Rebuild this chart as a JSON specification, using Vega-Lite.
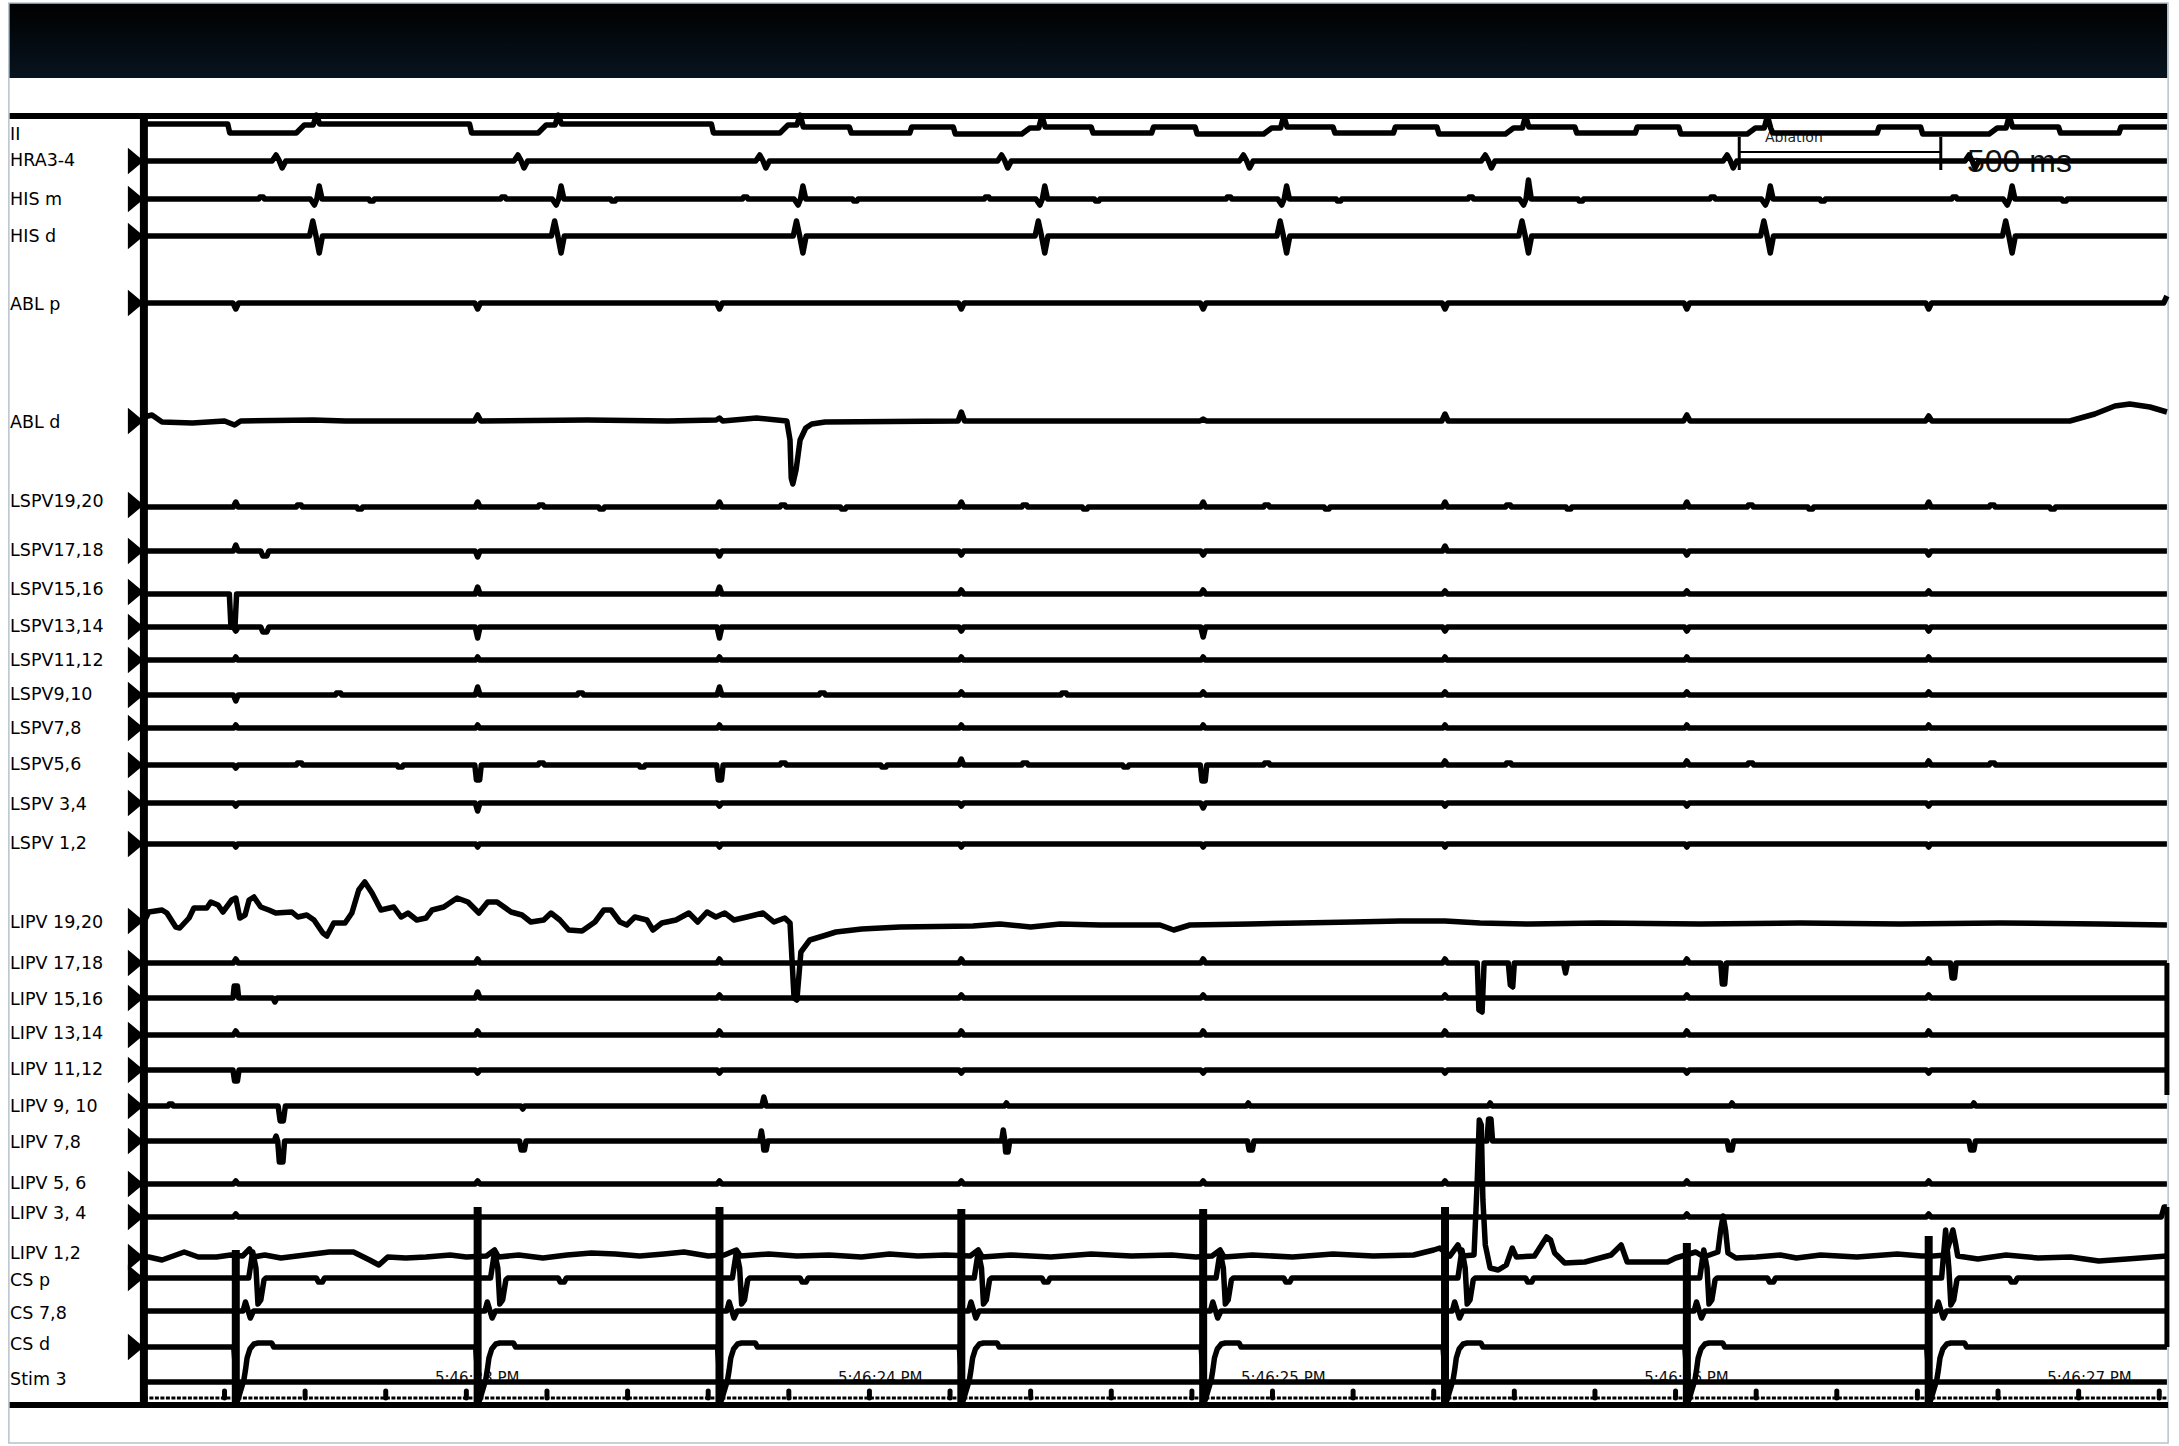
{
  "$schema": "https://vega.github.io/schema/vega-lite/v6.json",
  "width": 2179,
  "height": 1446,
  "padding": 0,
  "autosize": {"type": "none"},
  "background": "white",
  "config": {"view": {"stroke": null}},
  "datasets": {
    "channels": [
      {"name": "II", "ly": 135, "base": 124, "m": 0},
      {"name": "HRA3-4", "ly": 161, "base": 161, "m": 1},
      {"name": "HIS m", "ly": 200, "base": 199, "m": 1},
      {"name": "HIS d", "ly": 237, "base": 236, "m": 1},
      {"name": "ABL p", "ly": 305, "base": 303, "m": 1},
      {"name": "ABL d", "ly": 423, "base": 421, "m": 1},
      {"name": "LSPV19,20", "ly": 502, "base": 505, "m": 1},
      {"name": "LSPV17,18", "ly": 551, "base": 551, "m": 1},
      {"name": "LSPV15,16", "ly": 590, "base": 592, "m": 1},
      {"name": "LSPV13,14", "ly": 627, "base": 627, "m": 1},
      {"name": "LSPV11,12", "ly": 661, "base": 660, "m": 1},
      {"name": "LSPV9,10", "ly": 695, "base": 695, "m": 1},
      {"name": "LSPV7,8", "ly": 729, "base": 728, "m": 1},
      {"name": "LSPV5,6", "ly": 765, "base": 765, "m": 1},
      {"name": "LSPV 3,4", "ly": 805, "base": 803, "m": 1},
      {"name": "LSPV 1,2", "ly": 844, "base": 844, "m": 1},
      {"name": "LIPV  19,20", "ly": 923, "base": 921, "m": 1},
      {"name": "LIPV 17,18", "ly": 964, "base": 963, "m": 1},
      {"name": "LIPV 15,16", "ly": 1000, "base": 998, "m": 1},
      {"name": "LIPV 13,14", "ly": 1034, "base": 1035, "m": 1},
      {"name": "LIPV 11,12", "ly": 1070, "base": 1070, "m": 1},
      {"name": "LIPV 9, 10", "ly": 1107, "base": 1106, "m": 1},
      {"name": "LIPV 7,8", "ly": 1143, "base": 1141, "m": 1},
      {"name": "LIPV 5, 6", "ly": 1184, "base": 1184, "m": 1},
      {"name": "LIPV 3, 4", "ly": 1214, "base": 1217, "m": 1},
      {"name": "LIPV 1,2", "ly": 1254, "base": 1257, "m": 1},
      {"name": "CS p", "ly": 1281, "base": 1278, "m": 1},
      {"name": "CS 7,8", "ly": 1314, "base": 1311, "m": 0},
      {"name": "CS d", "ly": 1345, "base": 1347, "m": 1},
      {"name": "Stim 3", "ly": 1380, "base": 1382, "m": 0}
    ],
    "stim": [
      {"t": 228, "top": 1250}, {"t": 828, "top": 1207}, {"t": 1428, "top": 1207}, {"t": 2028, "top": 1209},
      {"t": 2628, "top": 1209}, {"t": 3228, "top": 1207}, {"t": 3828, "top": 1243}, {"t": 4428, "top": 1236}
    ],
    "ticks": [
      {"t": 200}, {"t": 400}, {"t": 600}, {"t": 800}, {"t": 1000}, {"t": 1200}, {"t": 1400}, {"t": 1600}, {"t": 1800},
      {"t": 2000}, {"t": 2200}, {"t": 2400}, {"t": 2600}, {"t": 2800}, {"t": 3000}, {"t": 3200}, {"t": 3400},
      {"t": 3600}, {"t": 3800}, {"t": 4000}, {"t": 4200}, {"t": 4400}, {"t": 4600}, {"t": 4800}, {"t": 5000}
    ],
    "clock": [
      {"t": 722, "s": "5:46:23 PM"}, {"t": 1722, "s": "5:46:24 PM"}, {"t": 2722, "s": "5:46:25 PM"},
      {"t": 3722, "s": "5:46:26 PM"}, {"t": 4722, "s": "5:46:27 PM"}
    ],
    "edges": [
      {"t": 5019, "v": 963, "v2": 1095},
      {"t": 5019, "v": 1207, "v2": 1347}
    ],
    "traces": [
      {"c":"II","t":0,"v":124},{"c":"II","t":208,"v":124},{"c":"II","t":213,"v":133},{"c":"II","t":378,"v":133},{"c":"II","t":398,"v":125},{"c":"II","t":420,"v":125},{"c":"II","t":428,"v":115},{"c":"II","t":436,"v":124},
      {"c":"II","t":808,"v":124},{"c":"II","t":813,"v":133},{"c":"II","t":978,"v":133},{"c":"II","t":998,"v":125},{"c":"II","t":1020,"v":125},{"c":"II","t":1028,"v":115},{"c":"II","t":1036,"v":124},
      {"c":"II","t":1408,"v":124},{"c":"II","t":1413,"v":133},{"c":"II","t":1578,"v":133},{"c":"II","t":1598,"v":125},{"c":"II","t":1620,"v":125},{"c":"II","t":1628,"v":115},{"c":"II","t":1636,"v":127},
      {"c":"II","t":1750,"v":127},{"c":"II","t":1755,"v":133},{"c":"II","t":1900,"v":133},{"c":"II","t":1905,"v":127},
      {"c":"II","t":2008,"v":127},{"c":"II","t":2013,"v":134},{"c":"II","t":2178,"v":134},{"c":"II","t":2198,"v":128},{"c":"II","t":2220,"v":128},{"c":"II","t":2228,"v":116},{"c":"II","t":2236,"v":127},{"c":"II","t":2350,"v":127},{"c":"II","t":2355,"v":133},{"c":"II","t":2500,"v":133},{"c":"II","t":2505,"v":127},
      {"c":"II","t":2608,"v":127},{"c":"II","t":2613,"v":134},{"c":"II","t":2778,"v":134},{"c":"II","t":2798,"v":128},{"c":"II","t":2820,"v":128},{"c":"II","t":2828,"v":116},{"c":"II","t":2836,"v":127},{"c":"II","t":2950,"v":127},{"c":"II","t":2955,"v":133},{"c":"II","t":3100,"v":133},{"c":"II","t":3105,"v":127},
      {"c":"II","t":3208,"v":127},{"c":"II","t":3213,"v":134},{"c":"II","t":3378,"v":134},{"c":"II","t":3398,"v":128},{"c":"II","t":3420,"v":128},{"c":"II","t":3428,"v":116},{"c":"II","t":3436,"v":127},{"c":"II","t":3550,"v":127},{"c":"II","t":3555,"v":133},{"c":"II","t":3700,"v":133},{"c":"II","t":3705,"v":127},
      {"c":"II","t":3808,"v":127},{"c":"II","t":3813,"v":134},{"c":"II","t":3978,"v":134},{"c":"II","t":3998,"v":128},{"c":"II","t":4020,"v":128},{"c":"II","t":4028,"v":116},{"c":"II","t":4036,"v":128},{"c":"II","t":4041,"v":133},{"c":"II","t":4300,"v":133},{"c":"II","t":4305,"v":127},
      {"c":"II","t":4408,"v":127},{"c":"II","t":4413,"v":134},{"c":"II","t":4578,"v":134},{"c":"II","t":4598,"v":128},{"c":"II","t":4620,"v":128},{"c":"II","t":4628,"v":116},{"c":"II","t":4636,"v":127},{"c":"II","t":4750,"v":127},{"c":"II","t":4755,"v":133},{"c":"II","t":4900,"v":133},{"c":"II","t":4905,"v":127},
      {"c":"II","t":5019,"v":127},

      {"c":"HRA3-4","t":0,"v":161},
      {"c":"HRA3-4","t":318,"v":161},{"c":"HRA3-4","t":328,"v":155},{"c":"HRA3-4","t":335,"v":160},{"c":"HRA3-4","t":343,"v":168},{"c":"HRA3-4","t":352,"v":161},
      {"c":"HRA3-4","t":918,"v":161},{"c":"HRA3-4","t":928,"v":155},{"c":"HRA3-4","t":935,"v":160},{"c":"HRA3-4","t":943,"v":168},{"c":"HRA3-4","t":952,"v":161},
      {"c":"HRA3-4","t":1518,"v":161},{"c":"HRA3-4","t":1528,"v":155},{"c":"HRA3-4","t":1535,"v":160},{"c":"HRA3-4","t":1543,"v":168},{"c":"HRA3-4","t":1552,"v":161},
      {"c":"HRA3-4","t":2118,"v":161},{"c":"HRA3-4","t":2128,"v":155},{"c":"HRA3-4","t":2135,"v":160},{"c":"HRA3-4","t":2143,"v":168},{"c":"HRA3-4","t":2152,"v":161},
      {"c":"HRA3-4","t":2718,"v":161},{"c":"HRA3-4","t":2728,"v":155},{"c":"HRA3-4","t":2735,"v":160},{"c":"HRA3-4","t":2743,"v":168},{"c":"HRA3-4","t":2752,"v":161},
      {"c":"HRA3-4","t":3318,"v":161},{"c":"HRA3-4","t":3328,"v":155},{"c":"HRA3-4","t":3335,"v":160},{"c":"HRA3-4","t":3343,"v":168},{"c":"HRA3-4","t":3352,"v":161},
      {"c":"HRA3-4","t":3918,"v":161},{"c":"HRA3-4","t":3928,"v":155},{"c":"HRA3-4","t":3935,"v":160},{"c":"HRA3-4","t":3943,"v":168},{"c":"HRA3-4","t":3952,"v":161},
      {"c":"HRA3-4","t":4518,"v":161},{"c":"HRA3-4","t":4528,"v":155},{"c":"HRA3-4","t":4535,"v":160},{"c":"HRA3-4","t":4543,"v":168},{"c":"HRA3-4","t":4552,"v":161},
      {"c":"HRA3-4","t":5019,"v":161},

      {"c":"HIS m","t":0,"v":199},
      {"c":"HIS m","t":285,"v":199},{"c":"HIS m","t":288,"v":197},{"c":"HIS m","t":296,"v":197},{"c":"HIS m","t":299,"v":199},
      {"c":"HIS m","t":413,"v":199},{"c":"HIS m","t":423,"v":205},{"c":"HIS m","t":429,"v":199},{"c":"HIS m","t":435,"v":186},{"c":"HIS m","t":442,"v":199},
      {"c":"HIS m","t":558,"v":199},{"c":"HIS m","t":561,"v":201},{"c":"HIS m","t":569,"v":201},{"c":"HIS m","t":572,"v":199},
      {"c":"HIS m","t":885,"v":199},{"c":"HIS m","t":888,"v":197},{"c":"HIS m","t":896,"v":197},{"c":"HIS m","t":899,"v":199},
      {"c":"HIS m","t":1013,"v":199},{"c":"HIS m","t":1023,"v":205},{"c":"HIS m","t":1029,"v":199},{"c":"HIS m","t":1035,"v":186},{"c":"HIS m","t":1042,"v":199},
      {"c":"HIS m","t":1158,"v":199},{"c":"HIS m","t":1161,"v":201},{"c":"HIS m","t":1169,"v":201},{"c":"HIS m","t":1172,"v":199},
      {"c":"HIS m","t":1485,"v":199},{"c":"HIS m","t":1488,"v":197},{"c":"HIS m","t":1496,"v":197},{"c":"HIS m","t":1499,"v":199},
      {"c":"HIS m","t":1613,"v":199},{"c":"HIS m","t":1623,"v":205},{"c":"HIS m","t":1629,"v":199},{"c":"HIS m","t":1635,"v":186},{"c":"HIS m","t":1642,"v":199},
      {"c":"HIS m","t":1758,"v":199},{"c":"HIS m","t":1761,"v":201},{"c":"HIS m","t":1769,"v":201},{"c":"HIS m","t":1772,"v":199},
      {"c":"HIS m","t":2085,"v":199},{"c":"HIS m","t":2088,"v":197},{"c":"HIS m","t":2096,"v":197},{"c":"HIS m","t":2099,"v":199},
      {"c":"HIS m","t":2213,"v":199},{"c":"HIS m","t":2223,"v":205},{"c":"HIS m","t":2229,"v":199},{"c":"HIS m","t":2235,"v":186},{"c":"HIS m","t":2242,"v":199},
      {"c":"HIS m","t":2358,"v":199},{"c":"HIS m","t":2361,"v":201},{"c":"HIS m","t":2369,"v":201},{"c":"HIS m","t":2372,"v":199},
      {"c":"HIS m","t":2685,"v":199},{"c":"HIS m","t":2688,"v":197},{"c":"HIS m","t":2696,"v":197},{"c":"HIS m","t":2699,"v":199},
      {"c":"HIS m","t":2813,"v":199},{"c":"HIS m","t":2823,"v":205},{"c":"HIS m","t":2829,"v":199},{"c":"HIS m","t":2835,"v":186},{"c":"HIS m","t":2842,"v":199},
      {"c":"HIS m","t":2958,"v":199},{"c":"HIS m","t":2961,"v":201},{"c":"HIS m","t":2969,"v":201},{"c":"HIS m","t":2972,"v":199},
      {"c":"HIS m","t":3285,"v":199},{"c":"HIS m","t":3288,"v":197},{"c":"HIS m","t":3296,"v":197},{"c":"HIS m","t":3299,"v":199},
      {"c":"HIS m","t":3413,"v":199},{"c":"HIS m","t":3423,"v":205},{"c":"HIS m","t":3429,"v":199},{"c":"HIS m","t":3435,"v":180},{"c":"HIS m","t":3442,"v":199},
      {"c":"HIS m","t":3558,"v":199},{"c":"HIS m","t":3561,"v":201},{"c":"HIS m","t":3569,"v":201},{"c":"HIS m","t":3572,"v":199},
      {"c":"HIS m","t":3885,"v":199},{"c":"HIS m","t":3888,"v":197},{"c":"HIS m","t":3896,"v":197},{"c":"HIS m","t":3899,"v":199},
      {"c":"HIS m","t":4013,"v":199},{"c":"HIS m","t":4023,"v":205},{"c":"HIS m","t":4029,"v":199},{"c":"HIS m","t":4035,"v":186},{"c":"HIS m","t":4042,"v":199},
      {"c":"HIS m","t":4158,"v":199},{"c":"HIS m","t":4161,"v":201},{"c":"HIS m","t":4169,"v":201},{"c":"HIS m","t":4172,"v":199},
      {"c":"HIS m","t":4485,"v":199},{"c":"HIS m","t":4488,"v":197},{"c":"HIS m","t":4496,"v":197},{"c":"HIS m","t":4499,"v":199},
      {"c":"HIS m","t":4613,"v":199},{"c":"HIS m","t":4623,"v":205},{"c":"HIS m","t":4629,"v":199},{"c":"HIS m","t":4635,"v":186},{"c":"HIS m","t":4642,"v":199},
      {"c":"HIS m","t":4758,"v":199},{"c":"HIS m","t":4761,"v":201},{"c":"HIS m","t":4769,"v":201},{"c":"HIS m","t":4772,"v":199},
      {"c":"HIS m","t":5019,"v":199},

      {"c":"HIS d","t":0,"v":236},
      {"c":"HIS d","t":411,"v":236},{"c":"HIS d","t":419,"v":221},{"c":"HIS d","t":426,"v":234},{"c":"HIS d","t":435,"v":253},{"c":"HIS d","t":443,"v":236},
      {"c":"HIS d","t":1011,"v":236},{"c":"HIS d","t":1019,"v":221},{"c":"HIS d","t":1026,"v":234},{"c":"HIS d","t":1035,"v":253},{"c":"HIS d","t":1043,"v":236},
      {"c":"HIS d","t":1611,"v":236},{"c":"HIS d","t":1619,"v":221},{"c":"HIS d","t":1626,"v":234},{"c":"HIS d","t":1635,"v":253},{"c":"HIS d","t":1643,"v":236},
      {"c":"HIS d","t":2211,"v":236},{"c":"HIS d","t":2219,"v":221},{"c":"HIS d","t":2226,"v":234},{"c":"HIS d","t":2235,"v":253},{"c":"HIS d","t":2243,"v":236},
      {"c":"HIS d","t":2811,"v":236},{"c":"HIS d","t":2819,"v":221},{"c":"HIS d","t":2826,"v":234},{"c":"HIS d","t":2835,"v":253},{"c":"HIS d","t":2843,"v":236},
      {"c":"HIS d","t":3411,"v":236},{"c":"HIS d","t":3419,"v":221},{"c":"HIS d","t":3426,"v":234},{"c":"HIS d","t":3435,"v":253},{"c":"HIS d","t":3443,"v":236},
      {"c":"HIS d","t":4011,"v":236},{"c":"HIS d","t":4019,"v":221},{"c":"HIS d","t":4026,"v":234},{"c":"HIS d","t":4035,"v":253},{"c":"HIS d","t":4043,"v":236},
      {"c":"HIS d","t":4611,"v":236},{"c":"HIS d","t":4619,"v":221},{"c":"HIS d","t":4626,"v":234},{"c":"HIS d","t":4635,"v":253},{"c":"HIS d","t":4643,"v":236},
      {"c":"HIS d","t":5019,"v":236},

      {"c":"ABL p","t":0,"v":303},
      {"c":"ABL p","t":221,"v":303},{"c":"ABL p","t":228,"v":309},{"c":"ABL p","t":235,"v":303},
      {"c":"ABL p","t":821,"v":303},{"c":"ABL p","t":828,"v":309},{"c":"ABL p","t":835,"v":303},
      {"c":"ABL p","t":1421,"v":303},{"c":"ABL p","t":1428,"v":309},{"c":"ABL p","t":1435,"v":303},
      {"c":"ABL p","t":2021,"v":303},{"c":"ABL p","t":2028,"v":309},{"c":"ABL p","t":2035,"v":303},
      {"c":"ABL p","t":2621,"v":303},{"c":"ABL p","t":2628,"v":309},{"c":"ABL p","t":2635,"v":303},
      {"c":"ABL p","t":3221,"v":303},{"c":"ABL p","t":3228,"v":309},{"c":"ABL p","t":3235,"v":303},
      {"c":"ABL p","t":3821,"v":303},{"c":"ABL p","t":3828,"v":309},{"c":"ABL p","t":3835,"v":303},
      {"c":"ABL p","t":4421,"v":303},{"c":"ABL p","t":4428,"v":309},{"c":"ABL p","t":4435,"v":303},
      {"c":"ABL p","t":5011,"v":303},{"c":"ABL p","t":5019,"v":296},

      {"c":"ABL d","t":0,"v":417},{"c":"ABL d","t":20,"v":415},{"c":"ABL d","t":45,"v":422},{"c":"ABL d","t":120,"v":423},{"c":"ABL d","t":200,"v":421},{"c":"ABL d","t":225,"v":425},{"c":"ABL d","t":240,"v":421},
      {"c":"ABL d","t":420,"v":420},{"c":"ABL d","t":500,"v":421},{"c":"ABL d","t":820,"v":421},{"c":"ABL d","t":828,"v":415},{"c":"ABL d","t":836,"v":421},
      {"c":"ABL d","t":1100,"v":420},{"c":"ABL d","t":1300,"v":421},{"c":"ABL d","t":1420,"v":420},{"c":"ABL d","t":1428,"v":418},{"c":"ABL d","t":1436,"v":421},
      {"c":"ABL d","t":1520,"v":418},{"c":"ABL d","t":1595,"v":421},{"c":"ABL d","t":1603,"v":440},{"c":"ABL d","t":1606,"v":478},{"c":"ABL d","t":1610,"v":484},{"c":"ABL d","t":1618,"v":470},
      {"c":"ABL d","t":1628,"v":440},{"c":"ABL d","t":1642,"v":428},{"c":"ABL d","t":1657,"v":424},{"c":"ABL d","t":1690,"v":422},
      {"c":"ABL d","t":2020,"v":421},{"c":"ABL d","t":2028,"v":412},{"c":"ABL d","t":2036,"v":421},
      {"c":"ABL d","t":2620,"v":421},{"c":"ABL d","t":2628,"v":419},{"c":"ABL d","t":2636,"v":421},
      {"c":"ABL d","t":3220,"v":421},{"c":"ABL d","t":3228,"v":414},{"c":"ABL d","t":3236,"v":421},
      {"c":"ABL d","t":3820,"v":421},{"c":"ABL d","t":3828,"v":415},{"c":"ABL d","t":3836,"v":421},
      {"c":"ABL d","t":4420,"v":421},{"c":"ABL d","t":4428,"v":416},{"c":"ABL d","t":4436,"v":421},
      {"c":"ABL d","t":4778,"v":421},{"c":"ABL d","t":4840,"v":414},{"c":"ABL d","t":4890,"v":406},{"c":"ABL d","t":4927,"v":404},{"c":"ABL d","t":4977,"v":407},{"c":"ABL d","t":5019,"v":412},

      {"c":"LSPV19,20","t":0,"v":507},
      {"c":"LSPV19,20","t":222,"v":507},{"c":"LSPV19,20","t":228,"v":502},{"c":"LSPV19,20","t":234,"v":507},{"c":"LSPV19,20","t":378,"v":507},{"c":"LSPV19,20","t":381,"v":505},{"c":"LSPV19,20","t":390,"v":505},{"c":"LSPV19,20","t":393,"v":507},{"c":"LSPV19,20","t":528,"v":507},{"c":"LSPV19,20","t":531,"v":509},{"c":"LSPV19,20","t":540,"v":509},{"c":"LSPV19,20","t":543,"v":507},
      {"c":"LSPV19,20","t":822,"v":507},{"c":"LSPV19,20","t":828,"v":502},{"c":"LSPV19,20","t":834,"v":507},{"c":"LSPV19,20","t":978,"v":507},{"c":"LSPV19,20","t":981,"v":505},{"c":"LSPV19,20","t":990,"v":505},{"c":"LSPV19,20","t":993,"v":507},{"c":"LSPV19,20","t":1128,"v":507},{"c":"LSPV19,20","t":1131,"v":509},{"c":"LSPV19,20","t":1140,"v":509},{"c":"LSPV19,20","t":1143,"v":507},
      {"c":"LSPV19,20","t":1422,"v":507},{"c":"LSPV19,20","t":1428,"v":502},{"c":"LSPV19,20","t":1434,"v":507},{"c":"LSPV19,20","t":1578,"v":507},{"c":"LSPV19,20","t":1581,"v":505},{"c":"LSPV19,20","t":1590,"v":505},{"c":"LSPV19,20","t":1593,"v":507},{"c":"LSPV19,20","t":1728,"v":507},{"c":"LSPV19,20","t":1731,"v":509},{"c":"LSPV19,20","t":1740,"v":509},{"c":"LSPV19,20","t":1743,"v":507},
      {"c":"LSPV19,20","t":2022,"v":507},{"c":"LSPV19,20","t":2028,"v":502},{"c":"LSPV19,20","t":2034,"v":507},{"c":"LSPV19,20","t":2178,"v":507},{"c":"LSPV19,20","t":2181,"v":505},{"c":"LSPV19,20","t":2190,"v":505},{"c":"LSPV19,20","t":2193,"v":507},{"c":"LSPV19,20","t":2328,"v":507},{"c":"LSPV19,20","t":2331,"v":509},{"c":"LSPV19,20","t":2340,"v":509},{"c":"LSPV19,20","t":2343,"v":507},
      {"c":"LSPV19,20","t":2622,"v":507},{"c":"LSPV19,20","t":2628,"v":502},{"c":"LSPV19,20","t":2634,"v":507},{"c":"LSPV19,20","t":2778,"v":507},{"c":"LSPV19,20","t":2781,"v":505},{"c":"LSPV19,20","t":2790,"v":505},{"c":"LSPV19,20","t":2793,"v":507},{"c":"LSPV19,20","t":2928,"v":507},{"c":"LSPV19,20","t":2931,"v":509},{"c":"LSPV19,20","t":2940,"v":509},{"c":"LSPV19,20","t":2943,"v":507},
      {"c":"LSPV19,20","t":3222,"v":507},{"c":"LSPV19,20","t":3228,"v":502},{"c":"LSPV19,20","t":3234,"v":507},{"c":"LSPV19,20","t":3378,"v":507},{"c":"LSPV19,20","t":3381,"v":505},{"c":"LSPV19,20","t":3390,"v":505},{"c":"LSPV19,20","t":3393,"v":507},{"c":"LSPV19,20","t":3528,"v":507},{"c":"LSPV19,20","t":3531,"v":509},{"c":"LSPV19,20","t":3540,"v":509},{"c":"LSPV19,20","t":3543,"v":507},
      {"c":"LSPV19,20","t":3822,"v":507},{"c":"LSPV19,20","t":3828,"v":502},{"c":"LSPV19,20","t":3834,"v":507},{"c":"LSPV19,20","t":3978,"v":507},{"c":"LSPV19,20","t":3981,"v":505},{"c":"LSPV19,20","t":3990,"v":505},{"c":"LSPV19,20","t":3993,"v":507},{"c":"LSPV19,20","t":4128,"v":507},{"c":"LSPV19,20","t":4131,"v":509},{"c":"LSPV19,20","t":4140,"v":509},{"c":"LSPV19,20","t":4143,"v":507},
      {"c":"LSPV19,20","t":4422,"v":507},{"c":"LSPV19,20","t":4428,"v":502},{"c":"LSPV19,20","t":4434,"v":507},{"c":"LSPV19,20","t":4578,"v":507},{"c":"LSPV19,20","t":4581,"v":505},{"c":"LSPV19,20","t":4590,"v":505},{"c":"LSPV19,20","t":4593,"v":507},{"c":"LSPV19,20","t":4728,"v":507},{"c":"LSPV19,20","t":4731,"v":509},{"c":"LSPV19,20","t":4740,"v":509},{"c":"LSPV19,20","t":4743,"v":507},
      {"c":"LSPV19,20","t":5019,"v":507},

      {"c":"LSPV17,18","t":0,"v":551},
      {"c":"LSPV17,18","t":222,"v":551},{"c":"LSPV17,18","t":228,"v":545},{"c":"LSPV17,18","t":234,"v":551},{"c":"LSPV17,18","t":290,"v":551},{"c":"LSPV17,18","t":295,"v":556},{"c":"LSPV17,18","t":305,"v":556},{"c":"LSPV17,18","t":310,"v":551},
      {"c":"LSPV17,18","t":822,"v":551},{"c":"LSPV17,18","t":828,"v":557},{"c":"LSPV17,18","t":834,"v":551},
      {"c":"LSPV17,18","t":1422,"v":551},{"c":"LSPV17,18","t":1428,"v":556},{"c":"LSPV17,18","t":1434,"v":551},
      {"c":"LSPV17,18","t":2022,"v":551},{"c":"LSPV17,18","t":2028,"v":555},{"c":"LSPV17,18","t":2034,"v":551},
      {"c":"LSPV17,18","t":2622,"v":551},{"c":"LSPV17,18","t":2628,"v":555},{"c":"LSPV17,18","t":2634,"v":551},
      {"c":"LSPV17,18","t":3222,"v":551},{"c":"LSPV17,18","t":3228,"v":546},{"c":"LSPV17,18","t":3234,"v":551},
      {"c":"LSPV17,18","t":3822,"v":551},{"c":"LSPV17,18","t":3828,"v":555},{"c":"LSPV17,18","t":3834,"v":551},
      {"c":"LSPV17,18","t":4422,"v":551},{"c":"LSPV17,18","t":4428,"v":555},{"c":"LSPV17,18","t":4434,"v":551},
      {"c":"LSPV17,18","t":5019,"v":551},

      {"c":"LSPV15,16","t":0,"v":594},
      {"c":"LSPV15,16","t":212,"v":594},{"c":"LSPV15,16","t":216,"v":627},{"c":"LSPV15,16","t":226,"v":627},{"c":"LSPV15,16","t":230,"v":594},
      {"c":"LSPV15,16","t":822,"v":594},{"c":"LSPV15,16","t":828,"v":587},{"c":"LSPV15,16","t":834,"v":594},
      {"c":"LSPV15,16","t":1422,"v":594},{"c":"LSPV15,16","t":1428,"v":587},{"c":"LSPV15,16","t":1434,"v":594},
      {"c":"LSPV15,16","t":2022,"v":594},{"c":"LSPV15,16","t":2028,"v":590},{"c":"LSPV15,16","t":2034,"v":594},
      {"c":"LSPV15,16","t":2622,"v":594},{"c":"LSPV15,16","t":2628,"v":590},{"c":"LSPV15,16","t":2634,"v":594},
      {"c":"LSPV15,16","t":3222,"v":594},{"c":"LSPV15,16","t":3228,"v":591},{"c":"LSPV15,16","t":3234,"v":594},
      {"c":"LSPV15,16","t":3822,"v":594},{"c":"LSPV15,16","t":3828,"v":591},{"c":"LSPV15,16","t":3834,"v":594},
      {"c":"LSPV15,16","t":4422,"v":594},{"c":"LSPV15,16","t":4428,"v":591},{"c":"LSPV15,16","t":4434,"v":594},
      {"c":"LSPV15,16","t":5019,"v":594},

      {"c":"LSPV13,14","t":0,"v":627},
      {"c":"LSPV13,14","t":222,"v":627},{"c":"LSPV13,14","t":228,"v":631},{"c":"LSPV13,14","t":234,"v":627},{"c":"LSPV13,14","t":290,"v":627},{"c":"LSPV13,14","t":295,"v":632},{"c":"LSPV13,14","t":305,"v":632},{"c":"LSPV13,14","t":310,"v":627},
      {"c":"LSPV13,14","t":822,"v":627},{"c":"LSPV13,14","t":828,"v":638},{"c":"LSPV13,14","t":834,"v":627},
      {"c":"LSPV13,14","t":1422,"v":627},{"c":"LSPV13,14","t":1428,"v":638},{"c":"LSPV13,14","t":1434,"v":627},
      {"c":"LSPV13,14","t":2022,"v":627},{"c":"LSPV13,14","t":2028,"v":631},{"c":"LSPV13,14","t":2034,"v":627},
      {"c":"LSPV13,14","t":2622,"v":627},{"c":"LSPV13,14","t":2628,"v":637},{"c":"LSPV13,14","t":2634,"v":627},
      {"c":"LSPV13,14","t":3222,"v":627},{"c":"LSPV13,14","t":3228,"v":631},{"c":"LSPV13,14","t":3234,"v":627},
      {"c":"LSPV13,14","t":3822,"v":627},{"c":"LSPV13,14","t":3828,"v":631},{"c":"LSPV13,14","t":3834,"v":627},
      {"c":"LSPV13,14","t":4422,"v":627},{"c":"LSPV13,14","t":4428,"v":631},{"c":"LSPV13,14","t":4434,"v":627},
      {"c":"LSPV13,14","t":5019,"v":627},

      {"c":"LSPV11,12","t":0,"v":660},
      {"c":"LSPV11,12","t":223,"v":660},{"c":"LSPV11,12","t":228,"v":657},{"c":"LSPV11,12","t":233,"v":660},
      {"c":"LSPV11,12","t":823,"v":660},{"c":"LSPV11,12","t":828,"v":657},{"c":"LSPV11,12","t":833,"v":660},
      {"c":"LSPV11,12","t":1423,"v":660},{"c":"LSPV11,12","t":1428,"v":657},{"c":"LSPV11,12","t":1433,"v":660},
      {"c":"LSPV11,12","t":2023,"v":660},{"c":"LSPV11,12","t":2028,"v":657},{"c":"LSPV11,12","t":2033,"v":660},
      {"c":"LSPV11,12","t":2623,"v":660},{"c":"LSPV11,12","t":2628,"v":657},{"c":"LSPV11,12","t":2633,"v":660},
      {"c":"LSPV11,12","t":3223,"v":660},{"c":"LSPV11,12","t":3228,"v":657},{"c":"LSPV11,12","t":3233,"v":660},
      {"c":"LSPV11,12","t":3823,"v":660},{"c":"LSPV11,12","t":3828,"v":657},{"c":"LSPV11,12","t":3833,"v":660},
      {"c":"LSPV11,12","t":4423,"v":660},{"c":"LSPV11,12","t":4428,"v":657},{"c":"LSPV11,12","t":4433,"v":660},
      {"c":"LSPV11,12","t":5019,"v":660},

      {"c":"LSPV9,10","t":0,"v":695},
      {"c":"LSPV9,10","t":222,"v":695},{"c":"LSPV9,10","t":228,"v":701},{"c":"LSPV9,10","t":234,"v":695},{"c":"LSPV9,10","t":475,"v":695},{"c":"LSPV9,10","t":478,"v":693},{"c":"LSPV9,10","t":488,"v":693},{"c":"LSPV9,10","t":491,"v":695},
      {"c":"LSPV9,10","t":822,"v":695},{"c":"LSPV9,10","t":828,"v":687},{"c":"LSPV9,10","t":834,"v":695},{"c":"LSPV9,10","t":1075,"v":695},{"c":"LSPV9,10","t":1078,"v":693},{"c":"LSPV9,10","t":1088,"v":693},{"c":"LSPV9,10","t":1091,"v":695},
      {"c":"LSPV9,10","t":1422,"v":695},{"c":"LSPV9,10","t":1428,"v":687},{"c":"LSPV9,10","t":1434,"v":695},{"c":"LSPV9,10","t":1675,"v":695},{"c":"LSPV9,10","t":1678,"v":693},{"c":"LSPV9,10","t":1688,"v":693},{"c":"LSPV9,10","t":1691,"v":695},
      {"c":"LSPV9,10","t":2022,"v":695},{"c":"LSPV9,10","t":2028,"v":692},{"c":"LSPV9,10","t":2034,"v":695},{"c":"LSPV9,10","t":2275,"v":695},{"c":"LSPV9,10","t":2278,"v":693},{"c":"LSPV9,10","t":2288,"v":693},{"c":"LSPV9,10","t":2291,"v":695},
      {"c":"LSPV9,10","t":2622,"v":695},{"c":"LSPV9,10","t":2628,"v":692},{"c":"LSPV9,10","t":2634,"v":695},
      {"c":"LSPV9,10","t":3222,"v":695},{"c":"LSPV9,10","t":3228,"v":692},{"c":"LSPV9,10","t":3234,"v":695},
      {"c":"LSPV9,10","t":3822,"v":695},{"c":"LSPV9,10","t":3828,"v":692},{"c":"LSPV9,10","t":3834,"v":695},
      {"c":"LSPV9,10","t":4422,"v":695},{"c":"LSPV9,10","t":4428,"v":692},{"c":"LSPV9,10","t":4434,"v":695},
      {"c":"LSPV9,10","t":5019,"v":695},

      {"c":"LSPV7,8","t":0,"v":728},
      {"c":"LSPV7,8","t":223,"v":728},{"c":"LSPV7,8","t":228,"v":725},{"c":"LSPV7,8","t":233,"v":728},
      {"c":"LSPV7,8","t":823,"v":728},{"c":"LSPV7,8","t":828,"v":725},{"c":"LSPV7,8","t":833,"v":728},
      {"c":"LSPV7,8","t":1423,"v":728},{"c":"LSPV7,8","t":1428,"v":725},{"c":"LSPV7,8","t":1433,"v":728},
      {"c":"LSPV7,8","t":2023,"v":728},{"c":"LSPV7,8","t":2028,"v":725},{"c":"LSPV7,8","t":2033,"v":728},
      {"c":"LSPV7,8","t":2623,"v":728},{"c":"LSPV7,8","t":2628,"v":725},{"c":"LSPV7,8","t":2633,"v":728},
      {"c":"LSPV7,8","t":3223,"v":728},{"c":"LSPV7,8","t":3228,"v":725},{"c":"LSPV7,8","t":3233,"v":728},
      {"c":"LSPV7,8","t":3823,"v":728},{"c":"LSPV7,8","t":3828,"v":725},{"c":"LSPV7,8","t":3833,"v":728},
      {"c":"LSPV7,8","t":4423,"v":728},{"c":"LSPV7,8","t":4428,"v":725},{"c":"LSPV7,8","t":4433,"v":728},
      {"c":"LSPV7,8","t":5019,"v":728},

      {"c":"LSPV5,6","t":0,"v":765},
      {"c":"LSPV5,6","t":222,"v":765},{"c":"LSPV5,6","t":228,"v":768},{"c":"LSPV5,6","t":234,"v":765},{"c":"LSPV5,6","t":378,"v":765},{"c":"LSPV5,6","t":381,"v":763},{"c":"LSPV5,6","t":391,"v":763},{"c":"LSPV5,6","t":394,"v":765},{"c":"LSPV5,6","t":628,"v":765},{"c":"LSPV5,6","t":631,"v":767},{"c":"LSPV5,6","t":641,"v":767},{"c":"LSPV5,6","t":644,"v":765},
      {"c":"LSPV5,6","t":821,"v":765},{"c":"LSPV5,6","t":825,"v":780},{"c":"LSPV5,6","t":833,"v":780},{"c":"LSPV5,6","t":837,"v":765},{"c":"LSPV5,6","t":978,"v":765},{"c":"LSPV5,6","t":981,"v":763},{"c":"LSPV5,6","t":991,"v":763},{"c":"LSPV5,6","t":994,"v":765},{"c":"LSPV5,6","t":1228,"v":765},{"c":"LSPV5,6","t":1231,"v":767},{"c":"LSPV5,6","t":1241,"v":767},{"c":"LSPV5,6","t":1244,"v":765},
      {"c":"LSPV5,6","t":1421,"v":765},{"c":"LSPV5,6","t":1425,"v":780},{"c":"LSPV5,6","t":1433,"v":780},{"c":"LSPV5,6","t":1437,"v":765},{"c":"LSPV5,6","t":1578,"v":765},{"c":"LSPV5,6","t":1581,"v":763},{"c":"LSPV5,6","t":1591,"v":763},{"c":"LSPV5,6","t":1594,"v":765},{"c":"LSPV5,6","t":1828,"v":765},{"c":"LSPV5,6","t":1831,"v":767},{"c":"LSPV5,6","t":1841,"v":767},{"c":"LSPV5,6","t":1844,"v":765},
      {"c":"LSPV5,6","t":2022,"v":765},{"c":"LSPV5,6","t":2028,"v":759},{"c":"LSPV5,6","t":2034,"v":765},{"c":"LSPV5,6","t":2178,"v":765},{"c":"LSPV5,6","t":2181,"v":763},{"c":"LSPV5,6","t":2191,"v":763},{"c":"LSPV5,6","t":2194,"v":765},{"c":"LSPV5,6","t":2428,"v":765},{"c":"LSPV5,6","t":2431,"v":767},{"c":"LSPV5,6","t":2441,"v":767},{"c":"LSPV5,6","t":2444,"v":765},
      {"c":"LSPV5,6","t":2621,"v":765},{"c":"LSPV5,6","t":2625,"v":781},{"c":"LSPV5,6","t":2633,"v":781},{"c":"LSPV5,6","t":2637,"v":765},{"c":"LSPV5,6","t":2778,"v":765},{"c":"LSPV5,6","t":2781,"v":763},{"c":"LSPV5,6","t":2791,"v":763},{"c":"LSPV5,6","t":2794,"v":765},
      {"c":"LSPV5,6","t":3222,"v":765},{"c":"LSPV5,6","t":3228,"v":761},{"c":"LSPV5,6","t":3234,"v":765},{"c":"LSPV5,6","t":3378,"v":765},{"c":"LSPV5,6","t":3381,"v":763},{"c":"LSPV5,6","t":3391,"v":763},{"c":"LSPV5,6","t":3394,"v":765},
      {"c":"LSPV5,6","t":3822,"v":765},{"c":"LSPV5,6","t":3828,"v":761},{"c":"LSPV5,6","t":3834,"v":765},{"c":"LSPV5,6","t":3978,"v":765},{"c":"LSPV5,6","t":3981,"v":763},{"c":"LSPV5,6","t":3991,"v":763},{"c":"LSPV5,6","t":3994,"v":765},
      {"c":"LSPV5,6","t":4422,"v":765},{"c":"LSPV5,6","t":4428,"v":761},{"c":"LSPV5,6","t":4434,"v":765},{"c":"LSPV5,6","t":4578,"v":765},{"c":"LSPV5,6","t":4581,"v":763},{"c":"LSPV5,6","t":4591,"v":763},{"c":"LSPV5,6","t":4594,"v":765},
      {"c":"LSPV5,6","t":5019,"v":765},

      {"c":"LSPV 3,4","t":0,"v":803},
      {"c":"LSPV 3,4","t":222,"v":803},{"c":"LSPV 3,4","t":228,"v":806},{"c":"LSPV 3,4","t":234,"v":803},
      {"c":"LSPV 3,4","t":822,"v":803},{"c":"LSPV 3,4","t":828,"v":811},{"c":"LSPV 3,4","t":834,"v":803},
      {"c":"LSPV 3,4","t":1422,"v":803},{"c":"LSPV 3,4","t":1428,"v":806},{"c":"LSPV 3,4","t":1434,"v":803},
      {"c":"LSPV 3,4","t":2022,"v":803},{"c":"LSPV 3,4","t":2028,"v":806},{"c":"LSPV 3,4","t":2034,"v":803},
      {"c":"LSPV 3,4","t":2622,"v":803},{"c":"LSPV 3,4","t":2628,"v":808},{"c":"LSPV 3,4","t":2634,"v":803},
      {"c":"LSPV 3,4","t":3222,"v":803},{"c":"LSPV 3,4","t":3228,"v":806},{"c":"LSPV 3,4","t":3234,"v":803},
      {"c":"LSPV 3,4","t":3822,"v":803},{"c":"LSPV 3,4","t":3828,"v":806},{"c":"LSPV 3,4","t":3834,"v":803},
      {"c":"LSPV 3,4","t":4422,"v":803},{"c":"LSPV 3,4","t":4428,"v":806},{"c":"LSPV 3,4","t":4434,"v":803},
      {"c":"LSPV 3,4","t":5019,"v":803},

      {"c":"LSPV 1,2","t":0,"v":844},
      {"c":"LSPV 1,2","t":223,"v":844},{"c":"LSPV 1,2","t":228,"v":847},{"c":"LSPV 1,2","t":233,"v":844},
      {"c":"LSPV 1,2","t":823,"v":844},{"c":"LSPV 1,2","t":828,"v":847},{"c":"LSPV 1,2","t":833,"v":844},
      {"c":"LSPV 1,2","t":1423,"v":844},{"c":"LSPV 1,2","t":1428,"v":847},{"c":"LSPV 1,2","t":1433,"v":844},
      {"c":"LSPV 1,2","t":2023,"v":844},{"c":"LSPV 1,2","t":2028,"v":847},{"c":"LSPV 1,2","t":2033,"v":844},
      {"c":"LSPV 1,2","t":2623,"v":844},{"c":"LSPV 1,2","t":2628,"v":847},{"c":"LSPV 1,2","t":2633,"v":844},
      {"c":"LSPV 1,2","t":3223,"v":844},{"c":"LSPV 1,2","t":3228,"v":847},{"c":"LSPV 1,2","t":3233,"v":844},
      {"c":"LSPV 1,2","t":3823,"v":844},{"c":"LSPV 1,2","t":3828,"v":847},{"c":"LSPV 1,2","t":3833,"v":844},
      {"c":"LSPV 1,2","t":4423,"v":844},{"c":"LSPV 1,2","t":4428,"v":847},{"c":"LSPV 1,2","t":4433,"v":844},
      {"c":"LSPV 1,2","t":5019,"v":844},

      {"c":"LIPV 19,20","t":0,"v":922},{"c":"LIPV 19,20","t":12,"v":912},{"c":"LIPV 19,20","t":45,"v":910},{"c":"LIPV 19,20","t":57,"v":913},{"c":"LIPV 19,20","t":79,"v":927},{"c":"LIPV 19,20","t":89,"v":928},
      {"c":"LIPV 19,20","t":112,"v":918},{"c":"LIPV 19,20","t":124,"v":908},{"c":"LIPV 19,20","t":156,"v":908},{"c":"LIPV 19,20","t":166,"v":902},{"c":"LIPV 19,20","t":184,"v":905},{"c":"LIPV 19,20","t":196,"v":912},
      {"c":"LIPV 19,20","t":218,"v":900},{"c":"LIPV 19,20","t":228,"v":898},{"c":"LIPV 19,20","t":238,"v":918},{"c":"LIPV 19,20","t":251,"v":915},{"c":"LIPV 19,20","t":261,"v":900},{"c":"LIPV 19,20","t":273,"v":897},
      {"c":"LIPV 19,20","t":290,"v":907},{"c":"LIPV 19,20","t":310,"v":910},{"c":"LIPV 19,20","t":327,"v":913},{"c":"LIPV 19,20","t":367,"v":912},{"c":"LIPV 19,20","t":382,"v":917},{"c":"LIPV 19,20","t":404,"v":915},
      {"c":"LIPV 19,20","t":422,"v":920},{"c":"LIPV 19,20","t":444,"v":933},{"c":"LIPV 19,20","t":454,"v":936},{"c":"LIPV 19,20","t":471,"v":923},{"c":"LIPV 19,20","t":499,"v":923},{"c":"LIPV 19,20","t":516,"v":913},
      {"c":"LIPV 19,20","t":533,"v":890},{"c":"LIPV 19,20","t":548,"v":882},{"c":"LIPV 19,20","t":566,"v":893},{"c":"LIPV 19,20","t":588,"v":910},{"c":"LIPV 19,20","t":620,"v":907},{"c":"LIPV 19,20","t":638,"v":917},
      {"c":"LIPV 19,20","t":655,"v":913},{"c":"LIPV 19,20","t":677,"v":920},{"c":"LIPV 19,20","t":700,"v":918},{"c":"LIPV 19,20","t":715,"v":910},{"c":"LIPV 19,20","t":744,"v":907},{"c":"LIPV 19,20","t":777,"v":898},
      {"c":"LIPV 19,20","t":804,"v":902},{"c":"LIPV 19,20","t":831,"v":913},{"c":"LIPV 19,20","t":853,"v":902},{"c":"LIPV 19,20","t":876,"v":902},{"c":"LIPV 19,20","t":911,"v":912},{"c":"LIPV 19,20","t":938,"v":915},
      {"c":"LIPV 19,20","t":960,"v":922},{"c":"LIPV 19,20","t":992,"v":920},{"c":"LIPV 19,20","t":1010,"v":913},{"c":"LIPV 19,20","t":1032,"v":920},{"c":"LIPV 19,20","t":1054,"v":930},{"c":"LIPV 19,20","t":1087,"v":931},
      {"c":"LIPV 19,20","t":1119,"v":922},{"c":"LIPV 19,20","t":1141,"v":910},{"c":"LIPV 19,20","t":1159,"v":910},{"c":"LIPV 19,20","t":1181,"v":922},{"c":"LIPV 19,20","t":1198,"v":925},{"c":"LIPV 19,20","t":1218,"v":917},
      {"c":"LIPV 19,20","t":1248,"v":920},{"c":"LIPV 19,20","t":1263,"v":930},{"c":"LIPV 19,20","t":1285,"v":923},{"c":"LIPV 19,20","t":1320,"v":920},{"c":"LIPV 19,20","t":1352,"v":913},{"c":"LIPV 19,20","t":1374,"v":922},
      {"c":"LIPV 19,20","t":1397,"v":912},{"c":"LIPV 19,20","t":1419,"v":917},{"c":"LIPV 19,20","t":1441,"v":913},{"c":"LIPV 19,20","t":1464,"v":920},{"c":"LIPV 19,20","t":1496,"v":917},{"c":"LIPV 19,20","t":1536,"v":913},
      {"c":"LIPV 19,20","t":1563,"v":922},{"c":"LIPV 19,20","t":1590,"v":918},{"c":"LIPV 19,20","t":1603,"v":923},{"c":"LIPV 19,20","t":1608,"v":960},{"c":"LIPV 19,20","t":1613,"v":998},{"c":"LIPV 19,20","t":1620,"v":1000},
      {"c":"LIPV 19,20","t":1630,"v":952},{"c":"LIPV 19,20","t":1652,"v":940},{"c":"LIPV 19,20","t":1685,"v":936},{"c":"LIPV 19,20","t":1717,"v":932},{"c":"LIPV 19,20","t":1781,"v":929},{"c":"LIPV 19,20","t":1876,"v":927},
      {"c":"LIPV 19,20","t":2057,"v":926},{"c":"LIPV 19,20","t":2124,"v":924},{"c":"LIPV 19,20","t":2200,"v":927},{"c":"LIPV 19,20","t":2273,"v":924},{"c":"LIPV 19,20","t":2372,"v":925},{"c":"LIPV 19,20","t":2521,"v":925},
      {"c":"LIPV 19,20","t":2555,"v":930},{"c":"LIPV 19,20","t":2595,"v":925},{"c":"LIPV 19,20","t":2744,"v":924},{"c":"LIPV 19,20","t":2868,"v":923},{"c":"LIPV 19,20","t":3000,"v":922},{"c":"LIPV 19,20","t":3116,"v":921},
      {"c":"LIPV 19,20","t":3228,"v":921},{"c":"LIPV 19,20","t":3315,"v":923},{"c":"LIPV 19,20","t":3439,"v":924},{"c":"LIPV 19,20","t":3612,"v":923},{"c":"LIPV 19,20","t":3860,"v":924},{"c":"LIPV 19,20","t":4109,"v":923},
      {"c":"LIPV 19,20","t":4357,"v":924},{"c":"LIPV 19,20","t":4605,"v":923},{"c":"LIPV 19,20","t":4853,"v":924},{"c":"LIPV 19,20","t":5019,"v":925},

      {"c":"LIPV 17,18","t":0,"v":963},
      {"c":"LIPV 17,18","t":222,"v":963},{"c":"LIPV 17,18","t":228,"v":959},{"c":"LIPV 17,18","t":234,"v":963},
      {"c":"LIPV 17,18","t":822,"v":963},{"c":"LIPV 17,18","t":828,"v":959},{"c":"LIPV 17,18","t":834,"v":963},
      {"c":"LIPV 17,18","t":1422,"v":963},{"c":"LIPV 17,18","t":1428,"v":959},{"c":"LIPV 17,18","t":1434,"v":963},
      {"c":"LIPV 17,18","t":2022,"v":963},{"c":"LIPV 17,18","t":2028,"v":959},{"c":"LIPV 17,18","t":2034,"v":963},
      {"c":"LIPV 17,18","t":2622,"v":963},{"c":"LIPV 17,18","t":2628,"v":959},{"c":"LIPV 17,18","t":2634,"v":963},
      {"c":"LIPV 17,18","t":3222,"v":963},{"c":"LIPV 17,18","t":3228,"v":959},{"c":"LIPV 17,18","t":3234,"v":963},
      {"c":"LIPV 17,18","t":3308,"v":963},{"c":"LIPV 17,18","t":3312,"v":1010},{"c":"LIPV 17,18","t":3320,"v":1012},{"c":"LIPV 17,18","t":3325,"v":963},
      {"c":"LIPV 17,18","t":3385,"v":963},{"c":"LIPV 17,18","t":3390,"v":985},{"c":"LIPV 17,18","t":3396,"v":987},{"c":"LIPV 17,18","t":3400,"v":963},
      {"c":"LIPV 17,18","t":3522,"v":963},{"c":"LIPV 17,18","t":3527,"v":973},{"c":"LIPV 17,18","t":3532,"v":963},
      {"c":"LIPV 17,18","t":3822,"v":963},{"c":"LIPV 17,18","t":3828,"v":959},{"c":"LIPV 17,18","t":3834,"v":963},
      {"c":"LIPV 17,18","t":3912,"v":963},{"c":"LIPV 17,18","t":3916,"v":984},{"c":"LIPV 17,18","t":3922,"v":984},{"c":"LIPV 17,18","t":3926,"v":963},
      {"c":"LIPV 17,18","t":4422,"v":963},{"c":"LIPV 17,18","t":4428,"v":959},{"c":"LIPV 17,18","t":4434,"v":963},
      {"c":"LIPV 17,18","t":4482,"v":963},{"c":"LIPV 17,18","t":4486,"v":978},{"c":"LIPV 17,18","t":4492,"v":978},{"c":"LIPV 17,18","t":4496,"v":963},
      {"c":"LIPV 17,18","t":5019,"v":963},

      {"c":"LIPV 15,16","t":0,"v":998},
      {"c":"LIPV 15,16","t":221,"v":998},{"c":"LIPV 15,16","t":224,"v":986},{"c":"LIPV 15,16","t":232,"v":986},{"c":"LIPV 15,16","t":235,"v":998},{"c":"LIPV 15,16","t":320,"v":998},{"c":"LIPV 15,16","t":325,"v":1002},{"c":"LIPV 15,16","t":330,"v":998},
      {"c":"LIPV 15,16","t":822,"v":998},{"c":"LIPV 15,16","t":828,"v":992},{"c":"LIPV 15,16","t":834,"v":998},
      {"c":"LIPV 15,16","t":1422,"v":998},{"c":"LIPV 15,16","t":1428,"v":995},{"c":"LIPV 15,16","t":1434,"v":998},
      {"c":"LIPV 15,16","t":2022,"v":998},{"c":"LIPV 15,16","t":2028,"v":995},{"c":"LIPV 15,16","t":2034,"v":998},
      {"c":"LIPV 15,16","t":2622,"v":998},{"c":"LIPV 15,16","t":2628,"v":995},{"c":"LIPV 15,16","t":2634,"v":998},
      {"c":"LIPV 15,16","t":3222,"v":998},{"c":"LIPV 15,16","t":3228,"v":995},{"c":"LIPV 15,16","t":3234,"v":998},
      {"c":"LIPV 15,16","t":3822,"v":998},{"c":"LIPV 15,16","t":3828,"v":995},{"c":"LIPV 15,16","t":3834,"v":998},
      {"c":"LIPV 15,16","t":4422,"v":998},{"c":"LIPV 15,16","t":4428,"v":995},{"c":"LIPV 15,16","t":4434,"v":998},
      {"c":"LIPV 15,16","t":5019,"v":998},

      {"c":"LIPV 13,14","t":0,"v":1035},
      {"c":"LIPV 13,14","t":222,"v":1035},{"c":"LIPV 13,14","t":228,"v":1031},{"c":"LIPV 13,14","t":234,"v":1035},
      {"c":"LIPV 13,14","t":822,"v":1035},{"c":"LIPV 13,14","t":828,"v":1031},{"c":"LIPV 13,14","t":834,"v":1035},
      {"c":"LIPV 13,14","t":1422,"v":1035},{"c":"LIPV 13,14","t":1428,"v":1031},{"c":"LIPV 13,14","t":1434,"v":1035},
      {"c":"LIPV 13,14","t":2022,"v":1035},{"c":"LIPV 13,14","t":2028,"v":1031},{"c":"LIPV 13,14","t":2034,"v":1035},
      {"c":"LIPV 13,14","t":2622,"v":1035},{"c":"LIPV 13,14","t":2628,"v":1031},{"c":"LIPV 13,14","t":2634,"v":1035},
      {"c":"LIPV 13,14","t":3222,"v":1035},{"c":"LIPV 13,14","t":3228,"v":1031},{"c":"LIPV 13,14","t":3234,"v":1035},
      {"c":"LIPV 13,14","t":3822,"v":1035},{"c":"LIPV 13,14","t":3828,"v":1031},{"c":"LIPV 13,14","t":3834,"v":1035},
      {"c":"LIPV 13,14","t":4422,"v":1035},{"c":"LIPV 13,14","t":4428,"v":1031},{"c":"LIPV 13,14","t":4434,"v":1035},
      {"c":"LIPV 13,14","t":5019,"v":1035},

      {"c":"LIPV 11,12","t":0,"v":1070},
      {"c":"LIPV 11,12","t":221,"v":1070},{"c":"LIPV 11,12","t":225,"v":1081},{"c":"LIPV 11,12","t":232,"v":1081},{"c":"LIPV 11,12","t":236,"v":1070},
      {"c":"LIPV 11,12","t":822,"v":1070},{"c":"LIPV 11,12","t":828,"v":1073},{"c":"LIPV 11,12","t":834,"v":1070},
      {"c":"LIPV 11,12","t":1422,"v":1070},{"c":"LIPV 11,12","t":1428,"v":1073},{"c":"LIPV 11,12","t":1434,"v":1070},
      {"c":"LIPV 11,12","t":2022,"v":1070},{"c":"LIPV 11,12","t":2028,"v":1073},{"c":"LIPV 11,12","t":2034,"v":1070},
      {"c":"LIPV 11,12","t":2622,"v":1070},{"c":"LIPV 11,12","t":2628,"v":1073},{"c":"LIPV 11,12","t":2634,"v":1070},
      {"c":"LIPV 11,12","t":3222,"v":1070},{"c":"LIPV 11,12","t":3228,"v":1073},{"c":"LIPV 11,12","t":3234,"v":1070},
      {"c":"LIPV 11,12","t":3822,"v":1070},{"c":"LIPV 11,12","t":3828,"v":1073},{"c":"LIPV 11,12","t":3834,"v":1070},
      {"c":"LIPV 11,12","t":4422,"v":1070},{"c":"LIPV 11,12","t":4428,"v":1073},{"c":"LIPV 11,12","t":4434,"v":1070},
      {"c":"LIPV 11,12","t":5019,"v":1070},

      {"c":"LIPV 9, 10","t":0,"v":1106},
      {"c":"LIPV 9, 10","t":60,"v":1106},{"c":"LIPV 9, 10","t":63,"v":1104},{"c":"LIPV 9, 10","t":70,"v":1104},{"c":"LIPV 9, 10","t":73,"v":1106},
      {"c":"LIPV 9, 10","t":333,"v":1106},{"c":"LIPV 9, 10","t":338,"v":1121},{"c":"LIPV 9, 10","t":346,"v":1121},{"c":"LIPV 9, 10","t":351,"v":1106},
      {"c":"LIPV 9, 10","t":935,"v":1106},{"c":"LIPV 9, 10","t":940,"v":1109},{"c":"LIPV 9, 10","t":945,"v":1106},
      {"c":"LIPV 9, 10","t":1533,"v":1106},{"c":"LIPV 9, 10","t":1538,"v":1097},{"c":"LIPV 9, 10","t":1544,"v":1106},
      {"c":"LIPV 9, 10","t":2135,"v":1106},{"c":"LIPV 9, 10","t":2140,"v":1103},{"c":"LIPV 9, 10","t":2145,"v":1106},
      {"c":"LIPV 9, 10","t":2735,"v":1106},{"c":"LIPV 9, 10","t":2740,"v":1103},{"c":"LIPV 9, 10","t":2745,"v":1106},
      {"c":"LIPV 9, 10","t":3335,"v":1106},{"c":"LIPV 9, 10","t":3340,"v":1103},{"c":"LIPV 9, 10","t":3345,"v":1106},
      {"c":"LIPV 9, 10","t":3935,"v":1106},{"c":"LIPV 9, 10","t":3940,"v":1103},{"c":"LIPV 9, 10","t":3945,"v":1106},
      {"c":"LIPV 9, 10","t":4535,"v":1106},{"c":"LIPV 9, 10","t":4540,"v":1103},{"c":"LIPV 9, 10","t":4545,"v":1106},
      {"c":"LIPV 9, 10","t":5019,"v":1106},

      {"c":"LIPV 7,8","t":0,"v":1141},
      {"c":"LIPV 7,8","t":323,"v":1141},{"c":"LIPV 7,8","t":328,"v":1136},{"c":"LIPV 7,8","t":332,"v":1141},{"c":"LIPV 7,8","t":336,"v":1162},{"c":"LIPV 7,8","t":345,"v":1162},{"c":"LIPV 7,8","t":349,"v":1141},
      {"c":"LIPV 7,8","t":932,"v":1141},{"c":"LIPV 7,8","t":936,"v":1150},{"c":"LIPV 7,8","t":944,"v":1150},{"c":"LIPV 7,8","t":948,"v":1141},
      {"c":"LIPV 7,8","t":1528,"v":1141},{"c":"LIPV 7,8","t":1532,"v":1131},{"c":"LIPV 7,8","t":1536,"v":1141},{"c":"LIPV 7,8","t":1538,"v":1150},{"c":"LIPV 7,8","t":1544,"v":1150},{"c":"LIPV 7,8","t":1548,"v":1141},
      {"c":"LIPV 7,8","t":2128,"v":1141},{"c":"LIPV 7,8","t":2132,"v":1130},{"c":"LIPV 7,8","t":2136,"v":1141},{"c":"LIPV 7,8","t":2138,"v":1152},{"c":"LIPV 7,8","t":2144,"v":1152},{"c":"LIPV 7,8","t":2148,"v":1141},
      {"c":"LIPV 7,8","t":2738,"v":1141},{"c":"LIPV 7,8","t":2742,"v":1150},{"c":"LIPV 7,8","t":2750,"v":1150},{"c":"LIPV 7,8","t":2754,"v":1141},
      {"c":"LIPV 7,8","t":3332,"v":1141},{"c":"LIPV 7,8","t":3336,"v":1119},{"c":"LIPV 7,8","t":3342,"v":1119},{"c":"LIPV 7,8","t":3346,"v":1141},
      {"c":"LIPV 7,8","t":3928,"v":1141},{"c":"LIPV 7,8","t":3932,"v":1150},{"c":"LIPV 7,8","t":3940,"v":1150},{"c":"LIPV 7,8","t":3944,"v":1141},
      {"c":"LIPV 7,8","t":4528,"v":1141},{"c":"LIPV 7,8","t":4532,"v":1150},{"c":"LIPV 7,8","t":4540,"v":1150},{"c":"LIPV 7,8","t":4544,"v":1141},
      {"c":"LIPV 7,8","t":5019,"v":1141},

      {"c":"LIPV 5, 6","t":0,"v":1184},
      {"c":"LIPV 5, 6","t":222,"v":1184},{"c":"LIPV 5, 6","t":228,"v":1181},{"c":"LIPV 5, 6","t":234,"v":1184},
      {"c":"LIPV 5, 6","t":822,"v":1184},{"c":"LIPV 5, 6","t":828,"v":1181},{"c":"LIPV 5, 6","t":834,"v":1184},
      {"c":"LIPV 5, 6","t":1422,"v":1184},{"c":"LIPV 5, 6","t":1428,"v":1181},{"c":"LIPV 5, 6","t":1434,"v":1184},
      {"c":"LIPV 5, 6","t":2022,"v":1184},{"c":"LIPV 5, 6","t":2028,"v":1181},{"c":"LIPV 5, 6","t":2034,"v":1184},
      {"c":"LIPV 5, 6","t":2622,"v":1184},{"c":"LIPV 5, 6","t":2628,"v":1181},{"c":"LIPV 5, 6","t":2634,"v":1184},
      {"c":"LIPV 5, 6","t":3222,"v":1184},{"c":"LIPV 5, 6","t":3228,"v":1181},{"c":"LIPV 5, 6","t":3234,"v":1184},
      {"c":"LIPV 5, 6","t":3822,"v":1184},{"c":"LIPV 5, 6","t":3828,"v":1181},{"c":"LIPV 5, 6","t":3834,"v":1184},
      {"c":"LIPV 5, 6","t":4422,"v":1184},{"c":"LIPV 5, 6","t":4428,"v":1181},{"c":"LIPV 5, 6","t":4434,"v":1184},
      {"c":"LIPV 5, 6","t":5019,"v":1184},

      {"c":"LIPV 3, 4","t":0,"v":1217},
      {"c":"LIPV 3, 4","t":222,"v":1217},{"c":"LIPV 3, 4","t":228,"v":1214},{"c":"LIPV 3, 4","t":234,"v":1217},
      {"c":"LIPV 3, 4","t":822,"v":1217},{"c":"LIPV 3, 4","t":828,"v":1214},{"c":"LIPV 3, 4","t":834,"v":1217},
      {"c":"LIPV 3, 4","t":1422,"v":1217},{"c":"LIPV 3, 4","t":1428,"v":1214},{"c":"LIPV 3, 4","t":1434,"v":1217},
      {"c":"LIPV 3, 4","t":2022,"v":1217},{"c":"LIPV 3, 4","t":2028,"v":1214},{"c":"LIPV 3, 4","t":2034,"v":1217},
      {"c":"LIPV 3, 4","t":2622,"v":1217},{"c":"LIPV 3, 4","t":2628,"v":1214},{"c":"LIPV 3, 4","t":2634,"v":1217},
      {"c":"LIPV 3, 4","t":3222,"v":1217},{"c":"LIPV 3, 4","t":3228,"v":1214},{"c":"LIPV 3, 4","t":3234,"v":1217},
      {"c":"LIPV 3, 4","t":3822,"v":1217},{"c":"LIPV 3, 4","t":3828,"v":1214},{"c":"LIPV 3, 4","t":3834,"v":1217},
      {"c":"LIPV 3, 4","t":4422,"v":1217},{"c":"LIPV 3, 4","t":4428,"v":1214},{"c":"LIPV 3, 4","t":4434,"v":1217},
      {"c":"LIPV 3, 4","t":5005,"v":1217},{"c":"LIPV 3, 4","t":5012,"v":1207},{"c":"LIPV 3, 4","t":5019,"v":1207},

      {"c":"LIPV 1,2","t":0,"v":1257},{"c":"LIPV 1,2","t":12,"v":1257},{"c":"LIPV 1,2","t":45,"v":1260},{"c":"LIPV 1,2","t":100,"v":1252},{"c":"LIPV 1,2","t":135,"v":1257},{"c":"LIPV 1,2","t":180,"v":1257},
      {"c":"LIPV 1,2","t":215,"v":1255},{"c":"LIPV 1,2","t":245,"v":1256},{"c":"LIPV 1,2","t":262,"v":1249},{"c":"LIPV 1,2","t":272,"v":1257},{"c":"LIPV 1,2","t":300,"v":1255},{"c":"LIPV 1,2","t":340,"v":1258},
      {"c":"LIPV 1,2","t":400,"v":1255},{"c":"LIPV 1,2","t":460,"v":1252},{"c":"LIPV 1,2","t":520,"v":1252},{"c":"LIPV 1,2","t":560,"v":1260},{"c":"LIPV 1,2","t":583,"v":1265},{"c":"LIPV 1,2","t":605,"v":1257},
      {"c":"LIPV 1,2","t":650,"v":1258},{"c":"LIPV 1,2","t":700,"v":1257},{"c":"LIPV 1,2","t":760,"v":1255},{"c":"LIPV 1,2","t":800,"v":1257},{"c":"LIPV 1,2","t":850,"v":1256},{"c":"LIPV 1,2","t":870,"v":1250},
      {"c":"LIPV 1,2","t":880,"v":1257},{"c":"LIPV 1,2","t":930,"v":1255},{"c":"LIPV 1,2","t":990,"v":1258},{"c":"LIPV 1,2","t":1050,"v":1255},{"c":"LIPV 1,2","t":1110,"v":1253},{"c":"LIPV 1,2","t":1170,"v":1254},
      {"c":"LIPV 1,2","t":1230,"v":1256},{"c":"LIPV 1,2","t":1290,"v":1254},{"c":"LIPV 1,2","t":1340,"v":1252},{"c":"LIPV 1,2","t":1400,"v":1256},{"c":"LIPV 1,2","t":1440,"v":1255},{"c":"LIPV 1,2","t":1470,"v":1250},
      {"c":"LIPV 1,2","t":1480,"v":1256},{"c":"LIPV 1,2","t":1550,"v":1254},{"c":"LIPV 1,2","t":1620,"v":1256},{"c":"LIPV 1,2","t":1700,"v":1255},{"c":"LIPV 1,2","t":1780,"v":1257},{"c":"LIPV 1,2","t":1850,"v":1254},
      {"c":"LIPV 1,2","t":1920,"v":1256},{"c":"LIPV 1,2","t":1990,"v":1255},{"c":"LIPV 1,2","t":2050,"v":1256},{"c":"LIPV 1,2","t":2070,"v":1250},{"c":"LIPV 1,2","t":2080,"v":1257},{"c":"LIPV 1,2","t":2150,"v":1255},
      {"c":"LIPV 1,2","t":2250,"v":1257},{"c":"LIPV 1,2","t":2350,"v":1254},{"c":"LIPV 1,2","t":2450,"v":1256},{"c":"LIPV 1,2","t":2550,"v":1255},{"c":"LIPV 1,2","t":2610,"v":1257},{"c":"LIPV 1,2","t":2650,"v":1256},
      {"c":"LIPV 1,2","t":2670,"v":1250},{"c":"LIPV 1,2","t":2680,"v":1257},{"c":"LIPV 1,2","t":2750,"v":1255},{"c":"LIPV 1,2","t":2850,"v":1257},{"c":"LIPV 1,2","t":2950,"v":1254},{"c":"LIPV 1,2","t":3050,"v":1256},
      {"c":"LIPV 1,2","t":3150,"v":1255},{"c":"LIPV 1,2","t":3200,"v":1250},{"c":"LIPV 1,2","t":3215,"v":1248},{"c":"LIPV 1,2","t":3240,"v":1256},{"c":"LIPV 1,2","t":3260,"v":1245},{"c":"LIPV 1,2","t":3270,"v":1256},
      {"c":"LIPV 1,2","t":3300,"v":1255},{"c":"LIPV 1,2","t":3308,"v":1180},{"c":"LIPV 1,2","t":3313,"v":1120},{"c":"LIPV 1,2","t":3318,"v":1125},{"c":"LIPV 1,2","t":3322,"v":1200},{"c":"LIPV 1,2","t":3328,"v":1245},
      {"c":"LIPV 1,2","t":3340,"v":1268},{"c":"LIPV 1,2","t":3360,"v":1270},{"c":"LIPV 1,2","t":3380,"v":1265},{"c":"LIPV 1,2","t":3395,"v":1248},{"c":"LIPV 1,2","t":3405,"v":1257},{"c":"LIPV 1,2","t":3450,"v":1256},
      {"c":"LIPV 1,2","t":3480,"v":1237},{"c":"LIPV 1,2","t":3490,"v":1240},{"c":"LIPV 1,2","t":3500,"v":1253},{"c":"LIPV 1,2","t":3525,"v":1263},{"c":"LIPV 1,2","t":3575,"v":1262},{"c":"LIPV 1,2","t":3640,"v":1255},
      {"c":"LIPV 1,2","t":3665,"v":1245},{"c":"LIPV 1,2","t":3680,"v":1262},{"c":"LIPV 1,2","t":3780,"v":1262},{"c":"LIPV 1,2","t":3800,"v":1258},{"c":"LIPV 1,2","t":3850,"v":1252},{"c":"LIPV 1,2","t":3870,"v":1257},
      {"c":"LIPV 1,2","t":3905,"v":1252},{"c":"LIPV 1,2","t":3912,"v":1230},{"c":"LIPV 1,2","t":3918,"v":1216},{"c":"LIPV 1,2","t":3924,"v":1230},{"c":"LIPV 1,2","t":3930,"v":1253},{"c":"LIPV 1,2","t":3950,"v":1258},
      {"c":"LIPV 1,2","t":4000,"v":1257},{"c":"LIPV 1,2","t":4060,"v":1255},{"c":"LIPV 1,2","t":4100,"v":1258},{"c":"LIPV 1,2","t":4160,"v":1255},{"c":"LIPV 1,2","t":4250,"v":1257},{"c":"LIPV 1,2","t":4350,"v":1254},
      {"c":"LIPV 1,2","t":4410,"v":1256},{"c":"LIPV 1,2","t":4440,"v":1256},{"c":"LIPV 1,2","t":4470,"v":1255},{"c":"LIPV 1,2","t":4480,"v":1242},{"c":"LIPV 1,2","t":4488,"v":1230},{"c":"LIPV 1,2","t":4494,"v":1242},
      {"c":"LIPV 1,2","t":4500,"v":1256},{"c":"LIPV 1,2","t":4550,"v":1259},{"c":"LIPV 1,2","t":4620,"v":1255},{"c":"LIPV 1,2","t":4700,"v":1258},{"c":"LIPV 1,2","t":4780,"v":1257},{"c":"LIPV 1,2","t":4850,"v":1261},
      {"c":"LIPV 1,2","t":4920,"v":1259},{"c":"LIPV 1,2","t":5019,"v":1256},

      {"c":"CS p","t":0,"v":1278},
      {"c":"CS p","t":260,"v":1278},{"c":"CS p","t":270,"v":1252},{"c":"CS p","t":278,"v":1268},{"c":"CS p","t":283,"v":1304},{"c":"CS p","t":290,"v":1300},{"c":"CS p","t":298,"v":1280},{"c":"CS p","t":303,"v":1278},{"c":"CS p","t":428,"v":1278},{"c":"CS p","t":433,"v":1282},{"c":"CS p","t":443,"v":1282},{"c":"CS p","t":448,"v":1278},
      {"c":"CS p","t":860,"v":1278},{"c":"CS p","t":870,"v":1252},{"c":"CS p","t":878,"v":1268},{"c":"CS p","t":883,"v":1304},{"c":"CS p","t":890,"v":1300},{"c":"CS p","t":898,"v":1280},{"c":"CS p","t":903,"v":1278},{"c":"CS p","t":1028,"v":1278},{"c":"CS p","t":1033,"v":1282},{"c":"CS p","t":1043,"v":1282},{"c":"CS p","t":1048,"v":1278},
      {"c":"CS p","t":1460,"v":1278},{"c":"CS p","t":1470,"v":1252},{"c":"CS p","t":1478,"v":1268},{"c":"CS p","t":1483,"v":1304},{"c":"CS p","t":1490,"v":1300},{"c":"CS p","t":1498,"v":1280},{"c":"CS p","t":1503,"v":1278},{"c":"CS p","t":1628,"v":1278},{"c":"CS p","t":1633,"v":1282},{"c":"CS p","t":1643,"v":1282},{"c":"CS p","t":1648,"v":1278},
      {"c":"CS p","t":2060,"v":1278},{"c":"CS p","t":2070,"v":1252},{"c":"CS p","t":2078,"v":1268},{"c":"CS p","t":2083,"v":1304},{"c":"CS p","t":2090,"v":1300},{"c":"CS p","t":2098,"v":1280},{"c":"CS p","t":2103,"v":1278},{"c":"CS p","t":2228,"v":1278},{"c":"CS p","t":2233,"v":1282},{"c":"CS p","t":2243,"v":1282},{"c":"CS p","t":2248,"v":1278},
      {"c":"CS p","t":2660,"v":1278},{"c":"CS p","t":2670,"v":1252},{"c":"CS p","t":2678,"v":1268},{"c":"CS p","t":2683,"v":1304},{"c":"CS p","t":2690,"v":1300},{"c":"CS p","t":2698,"v":1280},{"c":"CS p","t":2703,"v":1278},{"c":"CS p","t":2828,"v":1278},{"c":"CS p","t":2833,"v":1282},{"c":"CS p","t":2843,"v":1282},{"c":"CS p","t":2848,"v":1278},
      {"c":"CS p","t":3260,"v":1278},{"c":"CS p","t":3270,"v":1250},{"c":"CS p","t":3278,"v":1268},{"c":"CS p","t":3283,"v":1304},{"c":"CS p","t":3290,"v":1300},{"c":"CS p","t":3298,"v":1280},{"c":"CS p","t":3303,"v":1278},{"c":"CS p","t":3428,"v":1278},{"c":"CS p","t":3433,"v":1282},{"c":"CS p","t":3443,"v":1282},{"c":"CS p","t":3448,"v":1278},
      {"c":"CS p","t":3860,"v":1278},{"c":"CS p","t":3870,"v":1250},{"c":"CS p","t":3878,"v":1268},{"c":"CS p","t":3883,"v":1304},{"c":"CS p","t":3890,"v":1300},{"c":"CS p","t":3898,"v":1280},{"c":"CS p","t":3903,"v":1278},{"c":"CS p","t":4028,"v":1278},{"c":"CS p","t":4033,"v":1282},{"c":"CS p","t":4043,"v":1282},{"c":"CS p","t":4048,"v":1278},
      {"c":"CS p","t":4460,"v":1278},{"c":"CS p","t":4470,"v":1230},{"c":"CS p","t":4478,"v":1268},{"c":"CS p","t":4483,"v":1305},{"c":"CS p","t":4490,"v":1300},{"c":"CS p","t":4498,"v":1280},{"c":"CS p","t":4503,"v":1278},{"c":"CS p","t":4628,"v":1278},{"c":"CS p","t":4633,"v":1282},{"c":"CS p","t":4643,"v":1282},{"c":"CS p","t":4648,"v":1278},
      {"c":"CS p","t":5019,"v":1278},

      {"c":"CS 7,8","t":0,"v":1311},
      {"c":"CS 7,8","t":246,"v":1311},{"c":"CS 7,8","t":252,"v":1302},{"c":"CS 7,8","t":258,"v":1310},{"c":"CS 7,8","t":264,"v":1318},{"c":"CS 7,8","t":272,"v":1311},
      {"c":"CS 7,8","t":846,"v":1311},{"c":"CS 7,8","t":852,"v":1302},{"c":"CS 7,8","t":858,"v":1310},{"c":"CS 7,8","t":864,"v":1318},{"c":"CS 7,8","t":872,"v":1311},
      {"c":"CS 7,8","t":1446,"v":1311},{"c":"CS 7,8","t":1452,"v":1302},{"c":"CS 7,8","t":1458,"v":1310},{"c":"CS 7,8","t":1464,"v":1318},{"c":"CS 7,8","t":1472,"v":1311},
      {"c":"CS 7,8","t":2046,"v":1311},{"c":"CS 7,8","t":2052,"v":1302},{"c":"CS 7,8","t":2058,"v":1310},{"c":"CS 7,8","t":2064,"v":1318},{"c":"CS 7,8","t":2072,"v":1311},
      {"c":"CS 7,8","t":2646,"v":1311},{"c":"CS 7,8","t":2652,"v":1302},{"c":"CS 7,8","t":2658,"v":1310},{"c":"CS 7,8","t":2664,"v":1318},{"c":"CS 7,8","t":2672,"v":1311},
      {"c":"CS 7,8","t":3246,"v":1311},{"c":"CS 7,8","t":3252,"v":1302},{"c":"CS 7,8","t":3258,"v":1310},{"c":"CS 7,8","t":3264,"v":1318},{"c":"CS 7,8","t":3272,"v":1311},
      {"c":"CS 7,8","t":3846,"v":1311},{"c":"CS 7,8","t":3852,"v":1302},{"c":"CS 7,8","t":3858,"v":1310},{"c":"CS 7,8","t":3864,"v":1318},{"c":"CS 7,8","t":3872,"v":1311},
      {"c":"CS 7,8","t":4446,"v":1311},{"c":"CS 7,8","t":4452,"v":1302},{"c":"CS 7,8","t":4458,"v":1310},{"c":"CS 7,8","t":4464,"v":1318},{"c":"CS 7,8","t":4472,"v":1311},
      {"c":"CS 7,8","t":5019,"v":1311},

      {"c":"CS d","t":0,"v":1347},
      {"c":"CS d","t":223,"v":1347},{"c":"CS d","t":233,"v":1400},{"c":"CS d","t":248,"v":1380},{"c":"CS d","t":252,"v":1370},{"c":"CS d","t":256,"v":1358},{"c":"CS d","t":263,"v":1349},{"c":"CS d","t":273,"v":1344},{"c":"CS d","t":283,"v":1343},{"c":"CS d","t":317,"v":1343},{"c":"CS d","t":322,"v":1347},
      {"c":"CS d","t":823,"v":1347},{"c":"CS d","t":833,"v":1400},{"c":"CS d","t":848,"v":1380},{"c":"CS d","t":852,"v":1370},{"c":"CS d","t":856,"v":1358},{"c":"CS d","t":863,"v":1349},{"c":"CS d","t":873,"v":1344},{"c":"CS d","t":883,"v":1343},{"c":"CS d","t":917,"v":1343},{"c":"CS d","t":922,"v":1347},
      {"c":"CS d","t":1423,"v":1347},{"c":"CS d","t":1433,"v":1400},{"c":"CS d","t":1448,"v":1380},{"c":"CS d","t":1452,"v":1370},{"c":"CS d","t":1456,"v":1358},{"c":"CS d","t":1463,"v":1349},{"c":"CS d","t":1473,"v":1344},{"c":"CS d","t":1483,"v":1343},{"c":"CS d","t":1517,"v":1343},{"c":"CS d","t":1522,"v":1347},
      {"c":"CS d","t":2023,"v":1347},{"c":"CS d","t":2033,"v":1400},{"c":"CS d","t":2048,"v":1380},{"c":"CS d","t":2052,"v":1370},{"c":"CS d","t":2056,"v":1358},{"c":"CS d","t":2063,"v":1349},{"c":"CS d","t":2073,"v":1344},{"c":"CS d","t":2083,"v":1343},{"c":"CS d","t":2117,"v":1343},{"c":"CS d","t":2122,"v":1347},
      {"c":"CS d","t":2623,"v":1347},{"c":"CS d","t":2633,"v":1400},{"c":"CS d","t":2648,"v":1380},{"c":"CS d","t":2652,"v":1370},{"c":"CS d","t":2656,"v":1358},{"c":"CS d","t":2663,"v":1349},{"c":"CS d","t":2673,"v":1344},{"c":"CS d","t":2683,"v":1343},{"c":"CS d","t":2717,"v":1343},{"c":"CS d","t":2722,"v":1347},
      {"c":"CS d","t":3223,"v":1347},{"c":"CS d","t":3233,"v":1400},{"c":"CS d","t":3248,"v":1380},{"c":"CS d","t":3252,"v":1370},{"c":"CS d","t":3256,"v":1358},{"c":"CS d","t":3263,"v":1349},{"c":"CS d","t":3273,"v":1344},{"c":"CS d","t":3283,"v":1343},{"c":"CS d","t":3317,"v":1343},{"c":"CS d","t":3322,"v":1347},
      {"c":"CS d","t":3823,"v":1347},{"c":"CS d","t":3833,"v":1400},{"c":"CS d","t":3848,"v":1380},{"c":"CS d","t":3852,"v":1370},{"c":"CS d","t":3856,"v":1358},{"c":"CS d","t":3863,"v":1349},{"c":"CS d","t":3873,"v":1344},{"c":"CS d","t":3883,"v":1343},{"c":"CS d","t":3917,"v":1343},{"c":"CS d","t":3922,"v":1347},
      {"c":"CS d","t":4423,"v":1347},{"c":"CS d","t":4433,"v":1400},{"c":"CS d","t":4448,"v":1380},{"c":"CS d","t":4452,"v":1370},{"c":"CS d","t":4456,"v":1358},{"c":"CS d","t":4463,"v":1349},{"c":"CS d","t":4473,"v":1344},{"c":"CS d","t":4483,"v":1343},{"c":"CS d","t":4517,"v":1343},{"c":"CS d","t":4522,"v":1347},
      {"c":"CS d","t":5019,"v":1347},

      {"c":"Stim 3","t":0,"v":1382},{"c":"Stim 3","t":5019,"v":1382}
    ]
  },
  "layer": [
    {
      "description": "dark title band across the top of the recording window",
      "data": {"values": [{}]},
      "mark": {"type": "rect", "color": {"gradient": "linear", "x1": 0, "y1": 0, "x2": 0, "y2": 1, "stops": [{"offset": 0, "color": "#000000"}, {"offset": 1, "color": "#07141f"}]}},
      "encoding": {
        "x": {"datum": -335, "type": "quantitative", "scale": {"domain": [-357, 5049], "nice": false, "zero": false}, "axis": null},
        "x2": {"datum": 5020},
        "y": {"datum": 3, "type": "quantitative", "scale": {"domain": [0, 1446], "reverse": true, "nice": false, "zero": false}, "axis": null},
        "y2": {"datum": 78}
      }
    },
    {
      "description": "thin window border",
      "data": {"values": [{}]},
      "mark": {"type": "rect", "filled": false, "stroke": "#b6c2ce", "strokeWidth": 1.5},
      "encoding": {
        "x": {"datum": -335, "type": "quantitative", "axis": null},
        "x2": {"datum": 5022},
        "y": {"datum": 3, "type": "quantitative", "axis": null},
        "y2": {"datum": 1443}
      }
    },
    {
      "description": "wall-clock stamps along the stimulus channel",
      "data": {"name": "clock"},
      "mark": {"type": "text", "align": "left", "baseline": "alphabetic", "font": "DejaVu Sans", "fontSize": 15, "color": "#111111"},
      "encoding": {
        "x": {"field": "t", "type": "quantitative", "axis": null},
        "y": {"datum": 1383, "type": "quantitative", "axis": null},
        "text": {"field": "s"}
      }
    },
    {
      "description": "ablation annotation under lead II",
      "data": {"values": [{}]},
      "mark": {"type": "text", "align": "left", "baseline": "alphabetic", "font": "DejaVu Sans", "fontSize": 14, "color": "#222222", "text": "Ablation"},
      "encoding": {
        "x": {"datum": 4022, "type": "quantitative", "axis": null},
        "y": {"datum": 142, "type": "quantitative", "axis": null}
      }
    },
    {
      "description": "calibration label for the 500 ms bar",
      "data": {"values": [{}]},
      "mark": {"type": "text", "align": "left", "baseline": "alphabetic", "font": "Liberation Sans", "fontSize": 32, "color": "#111111", "text": "500 ms"},
      "encoding": {
        "x": {"datum": 4523, "type": "quantitative", "axis": null},
        "y": {"datum": 172, "type": "quantitative", "axis": null}
      }
    },
    {
      "description": "500 ms calibration bar",
      "data": {"values": [{}]},
      "mark": {"type": "rule", "color": "black", "strokeWidth": 2},
      "encoding": {
        "x": {"datum": 3958, "type": "quantitative", "axis": null},
        "x2": {"datum": 4458},
        "y": {"datum": 152, "type": "quantitative", "axis": null}
      }
    },
    {
      "description": "end caps of the calibration bar",
      "data": {"values": [{"t": 3958}, {"t": 4458}]},
      "mark": {"type": "rule", "color": "black", "strokeWidth": 3},
      "encoding": {
        "x": {"field": "t", "type": "quantitative", "axis": null},
        "y": {"datum": 137, "type": "quantitative", "axis": null},
        "y2": {"datum": 170}
      }
    },
    {
      "description": "electrogram traces, one line per channel",
      "data": {"name": "traces"},
      "mark": {"type": "line", "color": "black", "strokeWidth": 5.5, "strokeJoin": "round"},
      "encoding": {
        "x": {"field": "t", "type": "quantitative", "axis": null},
        "y": {"field": "v", "type": "quantitative", "axis": null},
        "detail": {"field": "c"}
      }
    },
    {
      "description": "pacing artefacts",
      "data": {"name": "stim"},
      "mark": {"type": "rule", "color": "black", "strokeWidth": 8},
      "encoding": {
        "x": {"field": "t", "type": "quantitative", "axis": null},
        "y": {"field": "top", "type": "quantitative", "axis": null},
        "y2": {"datum": 1405}
      }
    },
    {
      "description": "right-hand closing segments of the PV and CS groups",
      "data": {"name": "edges"},
      "mark": {"type": "rule", "color": "black", "strokeWidth": 5},
      "encoding": {
        "x": {"field": "t", "type": "quantitative", "axis": null},
        "y": {"field": "v", "type": "quantitative", "axis": null},
        "y2": {"field": "v2"}
      }
    },
    {
      "description": "time base: dotted line",
      "data": {"values": [{}]},
      "mark": {"type": "rule", "color": "black", "strokeWidth": 3, "strokeDash": [4, 1.5]},
      "encoding": {
        "x": {"datum": 0, "type": "quantitative", "axis": null},
        "x2": {"datum": 5019},
        "y": {"datum": 1398, "type": "quantitative", "axis": null}
      }
    },
    {
      "description": "time base: 200 ms marks",
      "data": {"name": "ticks"},
      "mark": {"type": "rule", "color": "black", "strokeWidth": 5, "strokeCap": "round"},
      "encoding": {
        "x": {"field": "t", "type": "quantitative", "axis": null},
        "y": {"datum": 1391, "type": "quantitative", "axis": null},
        "y2": {"datum": 1398}
      }
    },
    {
      "description": "top frame line",
      "data": {"values": [{}]},
      "mark": {"type": "rule", "color": "black", "strokeWidth": 6},
      "encoding": {
        "x": {"datum": -333, "type": "quantitative", "axis": null},
        "x2": {"datum": 5020},
        "y": {"datum": 116, "type": "quantitative", "axis": null}
      }
    },
    {
      "description": "bottom frame line",
      "data": {"values": [{}]},
      "mark": {"type": "rule", "color": "black", "strokeWidth": 6},
      "encoding": {
        "x": {"datum": -333, "type": "quantitative", "axis": null},
        "x2": {"datum": 5022},
        "y": {"datum": 1405, "type": "quantitative", "axis": null}
      }
    },
    {
      "description": "left edge of the trace area",
      "data": {"values": [{}]},
      "mark": {"type": "rule", "color": "black", "strokeWidth": 8},
      "encoding": {
        "x": {"datum": 0, "type": "quantitative", "axis": null},
        "y": {"datum": 113, "type": "quantitative", "axis": null},
        "y2": {"datum": 1408}
      }
    },
    {
      "description": "channel names",
      "data": {"name": "channels"},
      "mark": {"type": "text", "align": "left", "baseline": "middle", "font": "DejaVu Sans", "fontSize": 17.5, "color": "black"},
      "encoding": {
        "x": {"datum": -332, "type": "quantitative", "axis": null},
        "y": {"field": "ly", "type": "quantitative", "axis": null},
        "text": {"field": "name"}
      }
    },
    {
      "description": "channel markers",
      "data": {"name": "channels"},
      "transform": [{"filter": "datum.m == 1"}],
      "mark": {"type": "point", "filled": true, "color": "black", "opacity": 1, "size": 700, "shape": "M -0.6 -1 L 0.6 0 L -0.6 1 Z"},
      "encoding": {
        "x": {"datum": -20, "type": "quantitative", "axis": null},
        "y": {"field": "base", "type": "quantitative", "axis": null}
      }
    }
  ]
}
